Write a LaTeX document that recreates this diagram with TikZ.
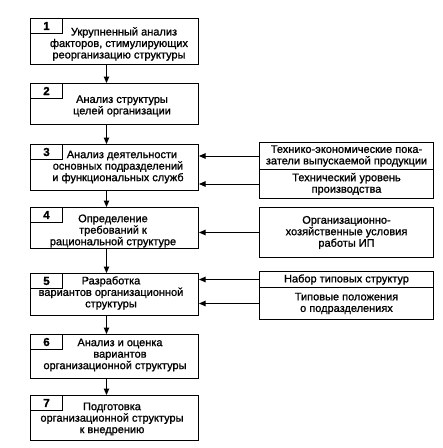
\documentclass[tikz,border=0pt]{standalone}
\usepackage{fontspec}
\setmainfont{Liberation Sans}[FakeBold=1.2]
\usetikzlibrary{arrows.meta}
\begin{document}
\begin{tikzpicture}[x=1pt,y=-1pt,
  box/.style={draw,line width=1pt,rectangle,inner sep=0pt,anchor=north west,align=center,font=\fontsize{11}{11.5}\selectfont},
  tabbox/.style={draw,line width=1pt,inner sep=0pt,minimum width=32pt,minimum height=15pt,anchor=north west,font=\fontsize{11.5}{12}\selectfont\bfseries},
  txt/.style={align=center,inner sep=0pt,font=\fontsize{11}{11.5}\selectfont},
  arr/.style={line width=1pt,-{Triangle[length=6.5pt,width=5.5pt]}}]
\useasboundingbox (0,0) rectangle (443,448);
% left column boxes
\node[box,minimum width=168pt,minimum height=46pt] (b1) at (30,18) {};
\node[box,minimum width=168pt,minimum height=41pt] (b2) at (30,83) {};
\node[box,minimum width=168pt,minimum height=46pt] (b3) at (30,144) {};
\node[box,minimum width=168pt,minimum height=41pt] (b4) at (30,207) {};
\node[box,minimum width=168pt,minimum height=42pt] (b5) at (30,273) {};
\node[box,minimum width=168pt,minimum height=44pt] (b6) at (30,334) {};
\node[box,minimum width=168pt,minimum height=45pt] (b7) at (30,395) {};
% tabs
\node[tabbox] (n1) at (b1.north west) {1};
\node[tabbox] (n2) at (b2.north west) {2};
\node[tabbox] (n3) at (b3.north west) {3};
\node[tabbox] (n4) at (b4.north west) {4};
\node[tabbox] (n5) at (b5.north west) {5};
\node[tabbox] (n6) at (b6.north west) {6};
\node[tabbox] (n7) at (b7.north west) {7};
% texts
\node[txt] (t1) at (119,44) {\hspace*{10pt}Укрупненный анализ\\факторов, стимулирующих\\реорганизацию структуры};
\node[txt] (t2) at (122,106) {Анализ структуры\\целей организации};
\node[txt] (t3) at (118,167) {\hspace*{8pt}Анализ деятельности\\основных подразделений\\и функциональных служб};
\node[txt] (t4) at (113,231) {Определение\\требований к\\рациональной структуре};
\node[txt] (t5) at (111,293) {Разработка\\вариантов организационной\\структуры};
\node[txt] (t6) at (115,355) {\hspace*{10pt}Анализ и оценка\\\hspace*{10pt}вариантов\\организационной структуры};
\node[txt] (t7) at (112,419) {Подготовка\\организационной структуры\\к внедрению};
% right boxes
\node[box,minimum width=174pt,minimum height=27pt] (r1) at (259,142) {Технико-экономические пока-\\затели выпускаемой продукции};
\node[box,minimum width=174pt,minimum height=29pt] (r2) at (259,169) {Технический уровень\\производства};
\node[box,minimum width=174pt,minimum height=50pt] (r3) at (259,207) {Организационно-\\хозяйственные условия\\работы ИП};
\node[box,minimum width=174pt,minimum height=16pt] (r4) at (259,271) {Набор типовых структур};
\node[box,minimum width=174pt,minimum height=32pt] (r5) at (259,287) {Типовые положения\\о подразделениях};
% vertical arrows
\draw[arr] ([xshift=-8pt]b1.south) -- ([xshift=-8pt]b2.north);
\draw[arr] ([xshift=-8pt]b2.south) -- ([xshift=-8pt]b3.north);
\draw[arr] ([xshift=-8pt]b3.south) -- ([xshift=-8pt]b4.north);
\draw[arr] ([xshift=-8pt]b4.south) -- ([xshift=-8pt]b5.north);
\draw[arr] ([xshift=-8pt]b5.south) -- ([xshift=-8pt]b6.north);
\draw[arr] ([xshift=-8pt]b6.south) -- ([xshift=-8pt]b7.north);
% horizontal arrows
\draw[arr] (r1.west) -- (r1.west -| b3.east);
\draw[arr] (r2.west) -- (r2.west -| b3.east);
\draw[arr] (r3.west) -- (r3.west -| b4.east);
\draw[arr] (r4.west) -- (r4.west -| b5.east);
\draw[arr] (r5.west) -- (r5.west -| b5.east);
\end{tikzpicture}
\end{document}
